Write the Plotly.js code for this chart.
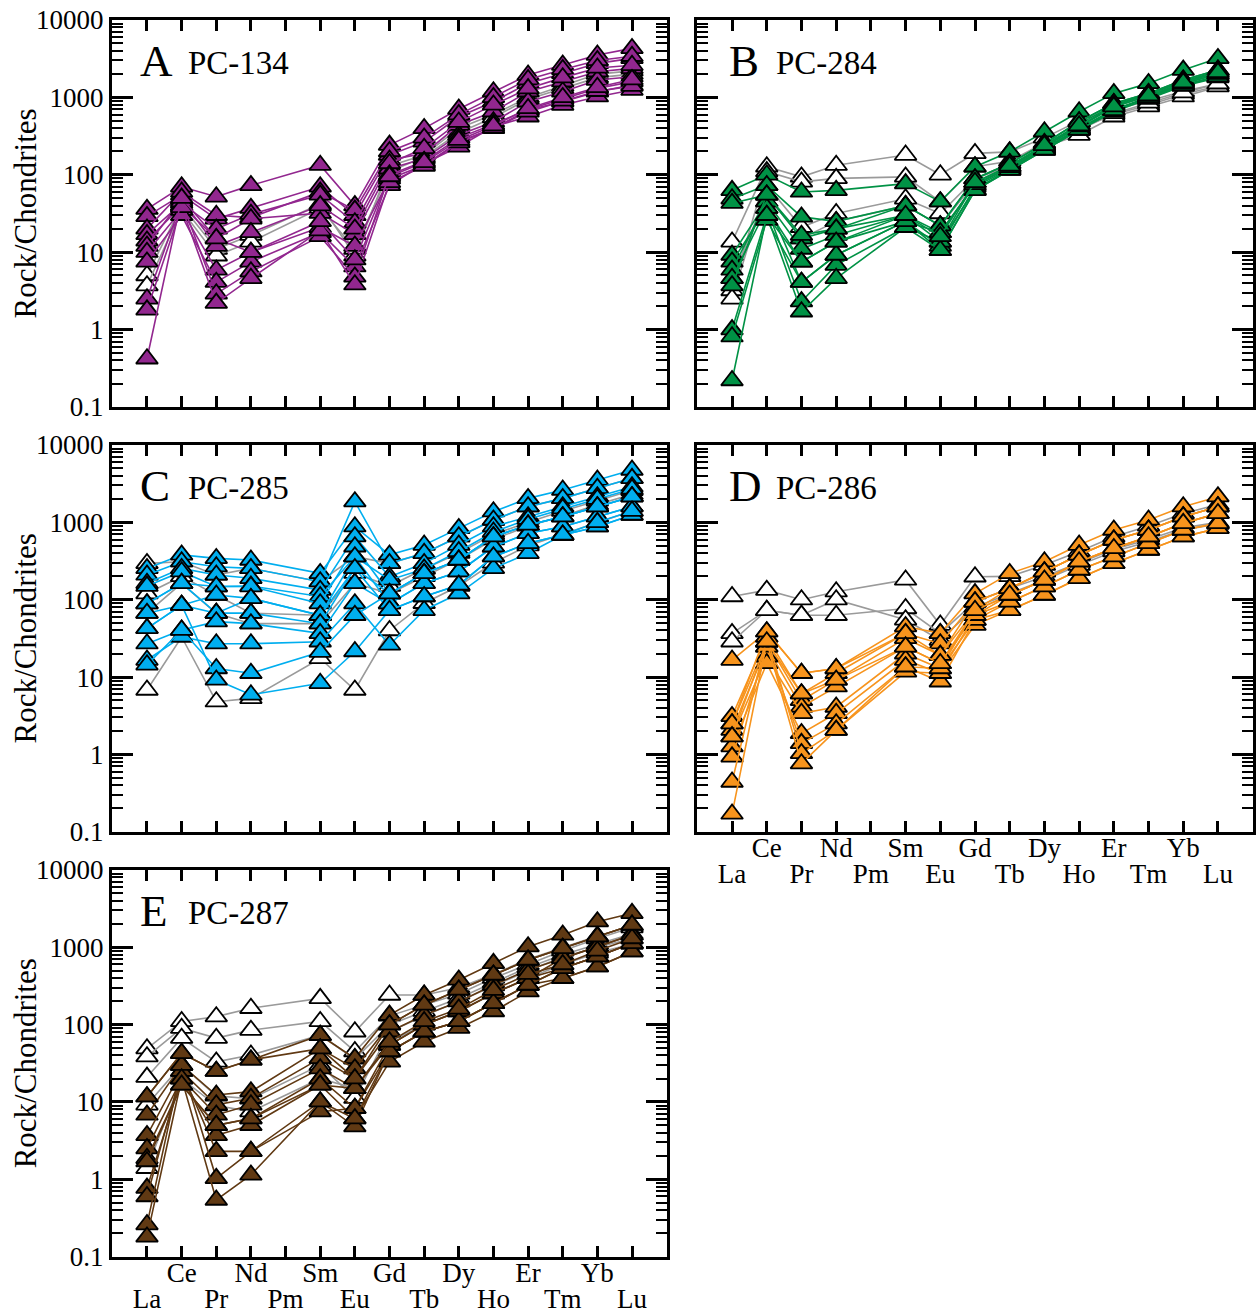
<!DOCTYPE html>
<html><head><meta charset="utf-8">
<script src="https://cdn.plot.ly/plotly-3.0.1.min.js"></script>
<style>html,body{margin:0;padding:0;background:#fff}#chart{width:1258px;height:1314px}</style>
</head><body><div id="chart"></div>
<script>
// ---- categories ----
const REE_ALL = ['La','Ce','Pr','Nd','Pm','Sm','Eu','Gd','Tb','Dy','Ho','Er','Tm','Yb','Lu'];
const REE_MEASURED = ['La','Ce','Pr','Nd','Sm','Eu','Gd','Tb','Dy','Ho','Er','Tm','Yb','Lu'];
const TOP_ROW_LABELS = ['Ce','Nd','Sm','Gd','Dy','Er','Yb'];
const BOTTOM_ROW_LABELS = ['La','Pr','Pm','Eu','Tb','Ho','Tm','Lu'];
const Y_TICKS = [0.1, 1, 10, 100, 1000, 10000];
const Y_TICK_LABELS = ['0.1', '1', '10', '100', '1000', '10000'];
const Y_TITLE = 'Rock/Chondrites';
const PANEL_LETTERS = ['A','B','C','D','E'];
const PANEL_SAMPLES = ['PC-134','PC-284','PC-285','PC-286','PC-287'];
const PANEL_COLORS = ['#92278F','#009245','#00AEEF','#F7941D','#603913'];
const GREY_LINE = '#9A9A9A';

// ---- values (La..Lu without Pm), chondrite-normalised ----
const A_open = [
  [5.0, 40, 11, 16.6, 42, 9, 130, 180, 400, 600, 1000, 1400, 2000, 2200],
  [3.7, 35, 9, 13.6, 37, 11, 110, 170, 350, 550, 950, 1300, 1800, 2000]
];
const A_filled = [
  [36, 70, 52, 73, 133, 40, 242, 398, 707, 1183, 1945, 2618, 3525, 4300],
  [29, 55, 27, 37, 70, 30, 180, 267, 562, 880, 1517, 2042, 2754, 3194],
  [20, 60, 30, 28, 60, 35, 200, 300, 600, 1000, 1700, 2300, 3000, 3400],
  [17, 43, 20, 31, 55, 24, 155, 189, 439, 653, 1183, 1595, 2148, 2371],
  [14, 40, 15, 27, 32, 17, 120, 162, 326, 484, 879, 1183, 1675, 1851],
  [12, 48, 12, 18, 40, 20, 140, 220, 480, 800, 1300, 1800, 2400, 2600],
  [10, 35, 5.9, 10, 21, 12, 89, 133, 267, 398, 686, 879, 1183, 1445],
  [7.5, 30, 4.1, 7.5, 18, 6.5, 73, 140, 230, 420, 562, 796, 1021, 1245],
  [2.5, 45, 2.9, 5.6, 16, 4.8, 100, 150, 300, 450, 700, 950, 1300, 1600],
  [1.8, 38, 2.2, 4.6, 19, 3.8, 80, 130, 260, 400, 650, 900, 1200, 1400],
  [0.42, 50, 15, 10, 25, 8, 95, 145, 280, 430, 720, 1000, 1350, 1700]
];
const B_open = [
  [13.6, 127, 94, 133, 180, 100, 189, 198, 300, 500, 700, 900, 1200, 1500],
  [3.2, 110, 81, 90, 94, 45, 127, 150, 260, 400, 600, 800, 1100, 1400],
  [2.5, 73, 21, 31.6, 49, 31.6, 89, 130, 230, 326, 562, 759, 1021, 1374],
  [4.6, 55, 15, 25, 40, 22, 80, 120, 220, 380, 620, 850, 1150, 1500]
];
const B_filled = [
  [63, 100, 60, 63, 77, 45, 127, 198, 360, 653, 1127, 1517, 2254, 3194],
  [49, 73, 28.6, 25, 40, 22, 89, 140, 254, 484, 836, 1127, 1675, 2254],
  [43, 55, 15, 20, 30, 18, 73, 125, 230, 420, 750, 1050, 1500, 2000],
  [9.2, 45, 11, 16.6, 30, 13.6, 80, 130, 240, 450, 800, 1100, 1600, 2100],
  [7.5, 37, 7.5, 13.6, 25, 10.6, 63, 115, 209, 379, 653, 950, 1400, 1800],
  [5.9, 45, 4.1, 9.2, 25, 12, 70, 120, 220, 400, 700, 1000, 1450, 1900],
  [4.6, 37, 2.3, 6.8, 21, 13.6, 65, 118, 215, 390, 680, 980, 1420, 1850],
  [3.7, 55, 16.6, 20, 40, 22, 89, 140, 254, 484, 836, 1127, 1675, 2254],
  [1.0, 30, 1.7, 4.6, 21, 10.6, 63, 115, 209, 379, 680, 1000, 1500, 2000],
  [0.81, 26, 4.1, 9.2, 25, 18, 75, 125, 240, 420, 780, 1100, 1600, 2200],
  [0.22, 30, 7.5, 13.6, 30, 16, 80, 130, 240, 430, 760, 1050, 1550, 2100]
];
const C_open = [
  [295, 310, 209, 254, 171, 360, 295, 398, 653, 1072, 1595, 2042, 2754, 3707],
  [120, 200, 115, 67, 63, 220, 150, 250, 400, 700, 1000, 1400, 1900, 2600],
  [67, 163, 67, 49, 49, 163, 120, 200, 330, 600, 900, 1200, 1700, 2300],
  [6.8, 33, 4.8, 5.3, 17.4, 6.8, 40, 90, 150, 300, 500, 700, 1000, 1400]
];
const C_filled = [
  [254, 380, 342, 326, 219, 879, 380, 509, 836, 1374, 2042, 2618, 3525, 4750],
  [209, 310, 267, 254, 171, 1851, 295, 398, 653, 1072, 1595, 2042, 2754, 3707],
  [163, 254, 209, 189, 133, 653, 198, 295, 509, 879, 1183, 1595, 2148, 2891],
  [150, 230, 148, 150, 110, 360, 180, 250, 420, 750, 1100, 1500, 2000, 2700],
  [89, 163, 148, 148, 89, 484, 120, 219, 326, 653, 925, 1183, 1595, 2148],
  [89, 163, 67, 104, 63, 254, 120, 219, 326, 653, 925, 1183, 1595, 2148],
  [67, 85, 115, 104, 63, 360, 89, 163, 230, 484, 721, 879, 1183, 1595],
  [42.6, 85, 67, 67, 49, 254, 73, 110, 155, 360, 536, 686, 879, 1245],
  [27, 40.5, 52, 49, 36.7, 163, 89, 163, 230, 484, 721, 879, 1183, 1595],
  [16.6, 33, 27, 27, 28.6, 89, 26, 73, 120, 254, 398, 686, 879, 1245],
  [14.4, 40.5, 12.9, 11.2, 21, 63, 120, 219, 326, 653, 925, 1183, 1595, 2148],
  [42.6, 85, 9.2, 5.9, 8.3, 21.4, 73, 110, 155, 360, 536, 686, 1000, 1400]
];
const D_open = [
  [110, 133, 100, 127, 180, 47, 198, 200, 280, 420, 650, 900, 1300, 1700],
  [36.7, 73, 63, 63, 77, 36.7, 94, 140, 200, 300, 450, 600, 850, 1000],
  [28.6, 73, 63, 100, 55, 30, 80, 120, 180, 280, 420, 560, 800, 950]
];
const D_filled = [
  [16.6, 38.6, 11.2, 12.9, 45, 36.7, 120, 219, 310, 509, 796, 1072, 1595, 2148],
  [3.1, 33, 6.1, 11.2, 36.7, 27, 94, 140, 230, 379, 591, 796, 1183, 1595],
  [2.5, 28.6, 5.0, 9.2, 31.6, 19.2, 73, 115, 180, 310, 461, 653, 971, 1306],
  [2.06, 24.6, 4.1, 7.5, 24.6, 15, 63, 94, 148, 242, 360, 536, 796, 971],
  [1.7, 18.3, 3.4, 4.1, 20, 12.9, 54.6, 73, 115, 189, 295, 439, 653, 836],
  [1.26, 15, 1.87, 3.4, 16.6, 11.2, 47, 73, 115, 189, 295, 439, 653, 836],
  [0.93, 24.6, 1.39, 2.5, 13.6, 8.7, 54.6, 94, 148, 242, 360, 536, 796, 971],
  [0.44, 33, 1.03, 2.06, 11.7, 11.2, 63, 115, 180, 310, 461, 653, 971, 1306],
  [0.17, 28.6, 0.76, 2.06, 13.6, 12.9, 73, 140, 230, 379, 591, 796, 1183, 1595],
  [2.5, 38.6, 11.2, 12.9, 36.7, 19.2, 94, 140, 230, 379, 591, 796, 1183, 1595],
  [1.7, 28.6, 6.1, 9.2, 24.6, 15, 73, 115, 180, 310, 461, 653, 971, 1306]
];
const E_open = [
  [49, 110, 127, 163, 219, 81, 242, 242, 300, 450, 700, 1000, 1400, 1900],
  [38.6, 90, 67, 85, 110, 45, 130, 180, 250, 400, 600, 900, 1300, 1800],
  [21, 67, 33, 40.5, 73, 36, 100, 150, 220, 350, 550, 800, 1100, 1500],
  [9.2, 30, 12, 11, 30, 11.2, 81, 130, 200, 320, 500, 750, 1000, 1300],
  [1.39, 20, 9, 7.5, 20, 15, 60, 100, 150, 250, 400, 600, 850, 1100]
];
const E_filled = [
  [11.7, 42.6, 25, 35, 73, 36.7, 133, 242, 379, 621, 1021, 1445, 2148, 2754],
  [6.8, 30, 12.3, 13.6, 49, 27, 100, 180, 281, 439, 686, 971, 1374, 1945],
  [3.7, 25, 9.2, 11.2, 36.7, 20, 81, 133, 198, 326, 509, 721, 1021, 1445],
  [2.5, 20, 6.8, 9.2, 27, 15, 54.6, 100, 148, 254, 398, 536, 759, 1127],
  [1.87, 16.6, 5.0, 6.1, 20, 8.3, 45, 81, 110, 189, 326, 398, 562, 879],
  [0.77, 20, 3.7, 5.0, 16.6, 6.1, 33, 60, 90, 148, 267, 398, 562, 879],
  [0.6, 25, 2.3, 2.3, 10.1, 4.8, 45, 81, 110, 189, 326, 536, 759, 1127],
  [0.26, 30, 1.03, 2.3, 7.5, 8.3, 54.6, 100, 148, 254, 398, 721, 1021, 1445],
  [0.18, 20, 0.54, 1.14, 10.1, 6.1, 45, 81, 110, 189, 326, 536, 759, 1127],
  [1.7, 16.6, 5.0, 6.1, 16.6, 15, 60, 110, 160, 280, 450, 600, 900, 1300],
  [11.7, 42.6, 25, 35, 49, 20, 100, 180, 281, 439, 686, 971, 1374, 1945]
];

const OPEN_SETS = [A_open, B_open, C_open, D_open, E_open];
const FILLED_SETS = [A_filled, B_filled, C_filled, D_filled, E_filled];

// ---- geometry / styling ----
const XDOM = [[0.08903, 0.53021], [0.55405, 0.99603]];
const YDOM = [[0.69026, 0.98478], [0.36700, 0.66134], [0.04364, 0.33790]];
const PANEL_POS = [[0,0],[1,0],[0,1],[1,1],[0,2]];
const FONT = 'Liberation Serif, Times New Roman, serif';

// minor log ticks 2..9 in each decade
const MINOR_TICKS = [];
Y_TICKS.slice(0, -1).forEach(d => { for (let m = 2; m <= 9; m++) MINOR_TICKS.push(+(m * d).toPrecision(3)); });

const xIdx = REE_MEASURED.map(e => REE_ALL.indexOf(e));
const traces = [];
const layout = {
  width: 1258, height: 1314,
  margin: {l:0, r:0, t:0, b:0, pad:0},
  paper_bgcolor: '#fff', plot_bgcolor: 'rgba(0,0,0,0)',
  showlegend: false,
  font: {family: FONT, color: '#000', size: 26},
  annotations: []
};

function axName(k, i) { return i === 0 ? k : k + (i + 1); }

for (let p = 0; p < 5; p++) {
  const xa = 'x' + (p === 0 ? '' : p + 1);
  const ya = 'y' + (p === 0 ? '' : p + 1);
  const [cx, cy] = PANEL_POS[p];
  OPEN_SETS[p].forEach(v => traces.push({
    type: 'scatter', mode: 'lines+markers', x: xIdx, y: v, xaxis: xa, yaxis: ya,
    line: {color: GREY_LINE, width: 1.6},
    marker: {symbol: 'triangle-up', size: 19, color: '#ffffff', line: {color: '#000', width: 1.8}},
    hoverinfo: 'skip', cliponaxis: false
  }));
  FILLED_SETS[p].forEach(v => traces.push({
    type: 'scatter', mode: 'lines+markers', x: xIdx, y: v, xaxis: xa, yaxis: ya,
    line: {color: PANEL_COLORS[p], width: 1.6},
    marker: {symbol: 'triangle-up', size: 19, color: PANEL_COLORS[p], line: {color: '#000', width: 1.8}},
    hoverinfo: 'skip', cliponaxis: false
  }));
  layout[axName('xaxis', p)] = {
    domain: XDOM[cx], anchor: ya, range: [-1.01, 15.01],
    tickmode: 'array', tickvals: REE_ALL.map((e, i) => i), showticklabels: false,
    ticks: 'inside', ticklen: 11, tickwidth: 3, tickcolor: '#000',
    showline: true, linewidth: 3, linecolor: '#000', mirror: 'ticks',
    showgrid: false, zeroline: false, automargin: false, fixedrange: true
  };
  layout[axName('yaxis', p)] = {
    domain: YDOM[cy], anchor: xa, type: 'log', range: [-1, 4],
    tickmode: 'array', tickvals: Y_TICKS, ticktext: Y_TICK_LABELS,
    showticklabels: cx === 0,
    ticks: 'inside', ticklen: 21, tickwidth: 3, tickcolor: '#000',
    minor: {tickmode: 'array', tickvals: MINOR_TICKS, ticks: 'inside', ticklen: 11, tickwidth: 2, tickcolor: '#000', showgrid: false},
    showline: true, linewidth: 3, linecolor: '#000', mirror: 'ticks',
    showgrid: false, zeroline: false, automargin: false, fixedrange: true,
    tickfont: {family: FONT, size: 27, color: '#000'}
  };
  if (cx === 0) {
    layout.annotations.push({
      xref: 'paper', yref: ya + ' domain', x: 25 / 1258, y: 0.5,
      xanchor: 'center', yanchor: 'middle', textangle: -90, showarrow: false,
      text: Y_TITLE, font: {family: FONT, size: 31, color: '#000'}
    });
  }
  layout.annotations.push({
    xref: xa + ' domain', yref: ya + ' domain', x: cx === 0 ? 0.046 : 0.054, y: 0.895,
    xanchor: 'left', yanchor: 'middle', showarrow: false,
    text: PANEL_LETTERS[p], font: {family: FONT, size: 45, color: '#000'}
  });
  layout.annotations.push({
    xref: xa + ' domain', yref: ya + ' domain', x: cx === 0 ? 0.133 : 0.138, y: 0.89,
    xanchor: 'left', yanchor: 'middle', showarrow: false,
    text: PANEL_SAMPLES[p], font: {family: FONT, size: 33, color: '#000'}
  });
}

// element labels in two staggered rows under panels D and E:
// label-only axes on thin strips just below each panel (no overlap with the plot areas)
let n = 6;
[3, 4].forEach(p => {
  const [cx, cy] = PANEL_POS[p];
  const bottom = YDOM[cy][0];
  [[TOP_ROW_LABELS, -7], [BOTTOM_ROW_LABELS, 19]].forEach(([labels, standoff]) => {
    layout['xaxis' + n] = {
      domain: XDOM[cx], anchor: 'y' + n, range: [-1.01, 15.01],
      tickmode: 'array', tickvals: labels.map(e => REE_ALL.indexOf(e)),
      ticktext: labels, ticks: '', ticklabelstandoff: standoff, tickangle: 0,
      showline: false, showgrid: false, zeroline: false, automargin: false, fixedrange: true,
      tickfont: {family: FONT, size: 27, color: '#000'}
    };
    layout['yaxis' + n] = {
      domain: [bottom - 0.003, bottom - 0.0001], anchor: 'x' + n, range: [0, 1],
      visible: false, fixedrange: true
    };
    traces.push({type: 'scatter', mode: 'markers', x: [0], y: [null], xaxis: 'x' + n, yaxis: 'y' + n,
      hoverinfo: 'skip', showlegend: false});
    n++;
  });
});

Plotly.newPlot('chart', traces, layout, {staticPlot: true, displayModeBar: false});
</script>
</body></html>
